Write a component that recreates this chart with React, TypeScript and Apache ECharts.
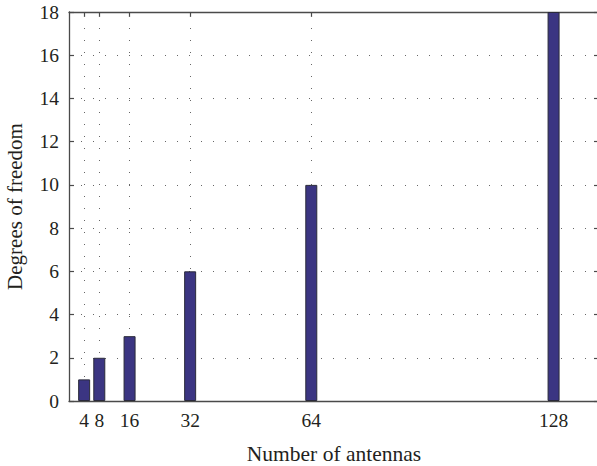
import React, { useEffect, useRef } from "react";
import * as echarts from "echarts";

const antennas = [4, 8, 16, 32, 64, 128];
const degreesOfFreedom = [1, 2, 3, 6, 10, 18];
const yTicks = [0, 2, 4, 6, 8, 10, 12, 14, 16, 18];

const FONT = "Liberation Serif, Times New Roman, serif";

export default function App() {
  const ref = useRef<HTMLDivElement>(null);
  useEffect(() => {
    if (!ref.current) return;
    const chart = echarts.init(ref.current, undefined, { renderer: "svg" });
    const axisLine = { show: true, onZero: false, lineStyle: { color: "#4a4a4a", width: 1.3 } };
    const tick = { show: true, inside: true, length: 5, lineStyle: { color: "#4a4a4a", width: 1.2 } };
    const dottedStyle = { color: "#666", width: 1, type: [1, 11] as any };
    chart.setOption({
      animation: false,
      backgroundColor: "#fff",
      textStyle: { fontFamily: FONT },
      grid: {
        left: 69,
        top: 12,
        width: 530,
        height: 389,
        containLabel: false,
        outerBoundsMode: "none",
      },
      xAxis: [
        {
          type: "value",
          position: "bottom",
          min: 0,
          max: 140,
          axisLine,
          axisTick: { ...tick, customValues: antennas },
          axisLabel: {
            customValues: antennas,
            color: "#231f20",
            fontFamily: FONT,
            fontSize: 19.5,
            margin: 9,
          },
          splitLine: { show: false },
          name: "Number of antennas",
          nameLocation: "middle",
          nameGap: 42,
          nameTextStyle: { color: "#231f20", fontFamily: FONT, fontSize: 21.5 },
        },
        {
          type: "value",
          position: "top",
          min: 0,
          max: 140,
          axisLine,
          axisTick: { ...tick, customValues: antennas },
          axisLabel: { show: false },
          splitLine: { show: false },
        },
      ],
      yAxis: [
        {
          type: "value",
          position: "left",
          min: 0,
          max: 18,
          interval: 2,
          axisLine,
          axisTick: tick,
          axisLabel: {
            color: "#231f20",
            fontFamily: FONT,
            fontSize: 19.5,
            margin: 10,
            formatter: (v: number) => (yTicks.includes(v) ? String(v) : ""),
          },
          splitLine: { show: true, lineStyle: dottedStyle },
          name: "Degrees of freedom",
          nameLocation: "middle",
          nameGap: 44,
          nameTextStyle: { color: "#231f20", fontFamily: FONT, fontSize: 21 },
        },
        {
          type: "value",
          position: "right",
          min: 0,
          max: 18,
          interval: 2,
          axisLine,
          axisTick: tick,
          axisLabel: { show: false },
          splitLine: { show: false },
        },
      ],
      series: [
        {
          type: "bar",
          xAxisIndex: 0,
          yAxisIndex: 0,
          barWidth: 12,
          data: antennas.map((a, i) => [a, degreesOfFreedom[i]]),
          itemStyle: { color: "#3b3582", borderColor: "#2a2a3a", borderWidth: 1 },
          z: 3,
          markLine: {
            silent: true,
            symbol: "none",
            label: { show: false },
            lineStyle: dottedStyle,
            z: 1,
            data: antennas.map((a) => ({ xAxis: a })),
          },
        },
      ],
    });
    return () => chart.dispose();
  }, []);
  return (
    <div
      ref={ref}
      style={{ position: "fixed", left: 0, top: 0, width: 597, height: 466 }}
    />
  );
}
